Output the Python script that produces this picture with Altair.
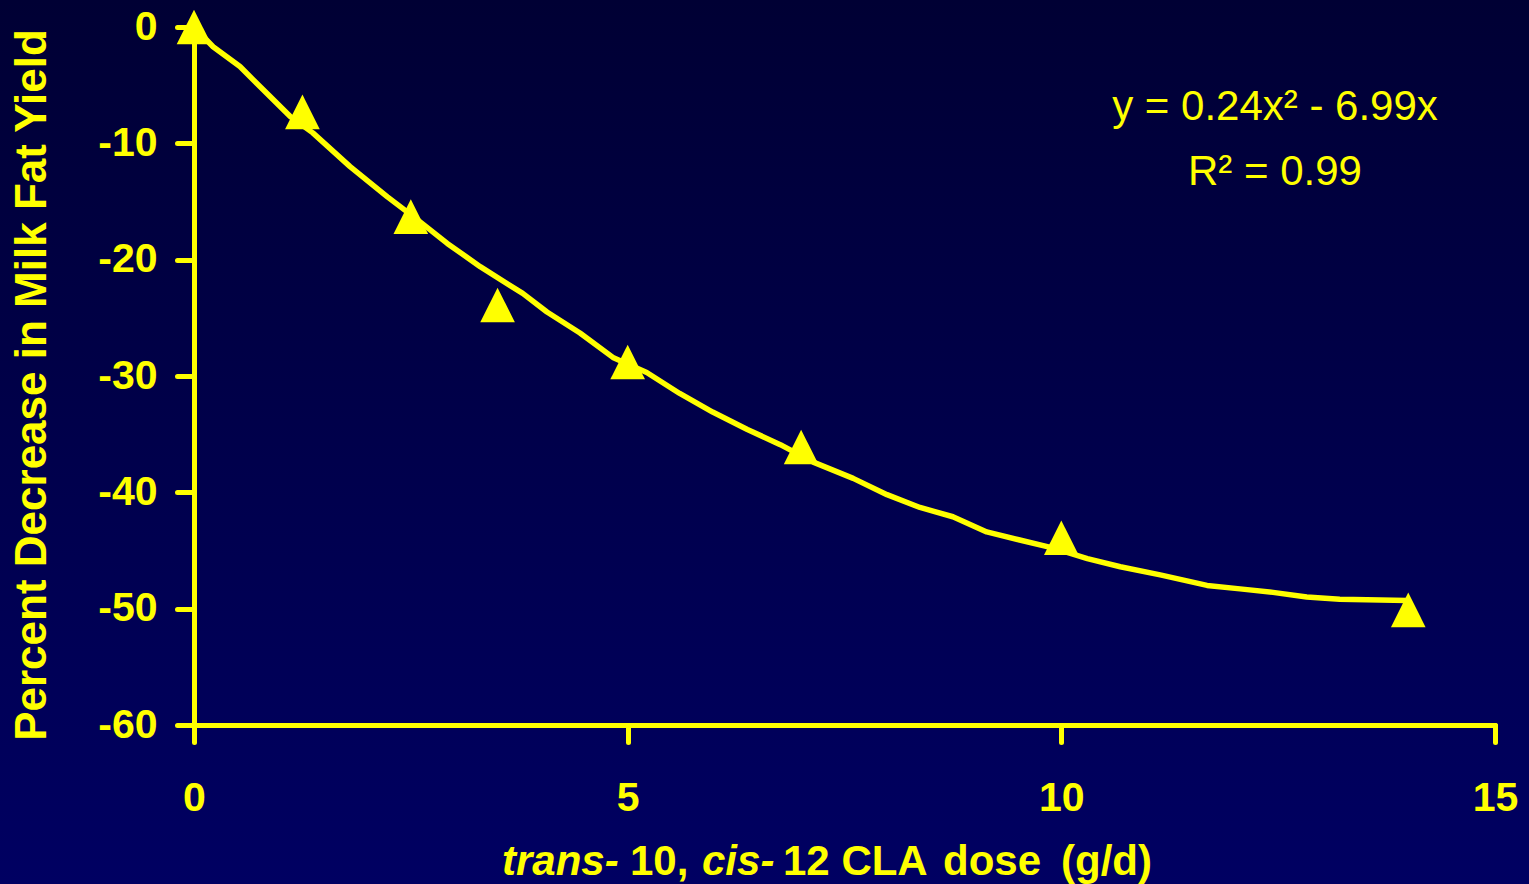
import altair as alt
import pandas as pd

YELLOW = "#FFFF00"
FONT = "Liberation Sans"

# Observed responses: CLA dose (g/d) vs. change in milk fat yield (%)
dose = [0, 1.25, 2.5, 3.5, 5, 7, 10, 14]
fat_change = [0, -7.3, -16.3, -23.9, -28.8, -36.1, -43.9, -50.1]

# Fitted quadratic trend line, sampled along its drawn path
curve_dose = [0, 0.22, 0.53, 0.88, 1.11, 1.37, 1.80, 2.23, 2.53, 2.92, 3.30, 3.79,
              4.07, 4.45, 4.83, 5.22, 5.60, 5.98, 6.38, 6.76, 7.14, 7.60, 7.99,
              8.37, 8.75, 9.14, 9.52, 9.91, 10.30, 10.68, 11.14, 11.68, 12.06,
              12.44, 12.83, 13.21, 13.99]
curve_change = [0, -1.7, -3.4, -6.0, -7.7, -9.1, -12.0, -14.6, -16.3, -18.6, -20.6,
                -22.9, -24.5, -26.3, -28.4, -29.7, -31.5, -33.1, -34.6, -35.9,
                -37.4, -38.8, -40.2, -41.3, -42.1, -43.4, -44.1, -44.8, -45.7,
                -46.4, -47.1, -48.0, -48.3, -48.6, -49.0, -49.2, -49.3]

x_ticks = [0, 5, 10, 15]
y_ticks = [-60, -50, -40, -30, -20, -10, 0]

equation_lines = ["y = 0.24x\u00b2 - 6.99x", "R\u00b2 = 0.99"]
y_title = "Percent Decrease in Milk Fat Yield"
x_title_parts = ["trans-", "10,", "cis-", "12 CLA", "dose", "(g/d)"]
x_title_italic = [True, False, True, False, False, False]

W, H = 1301, 698
PAD = {"left": 194, "top": 27, "right": 34, "bottom": 159}

points_df = pd.DataFrame({"dose": dose, "change": fat_change})
curve_df = pd.DataFrame({"dose": curve_dose, "change": curve_change})

x_scale = alt.Scale(domain=[0, 15], nice=False, zero=False)
y_scale = alt.Scale(domain=[-60, 0], nice=False, zero=False)

# plain integer labels with an ASCII hyphen for negatives
LABEL_EXPR = "datum.value < 0 ? '-' + abs(datum.value) : '' + datum.value"

axis_style = dict(
    domainColor=YELLOW, domainWidth=5, domainCap="round",
    tickColor=YELLOW, tickWidth=5, tickSize=17, tickCap="round",
    labelColor=YELLOW, labelFont=FONT, labelFontWeight="bold", labelFontSize=41,
    labelFlush=False, labelOverlap=False, labelExpr=LABEL_EXPR,
    grid=False, title=None, zindex=1,
)

# Dark navy backdrop fading slightly brighter toward the bottom
backdrop = alt.Chart(alt.Data(values=[{}])).mark_rect(
    fill=alt.Gradient(
        gradient="linear",
        stops=[alt.GradientStop(color="#000034", offset=0),
               alt.GradientStop(color="#000062", offset=1)],
        x1=0, x2=0, y1=0, y2=1,
    )
).encode(
    x=alt.value(-PAD["left"]), x2=alt.value(W + PAD["right"]),
    y=alt.value(-PAD["top"]), y2=alt.value(H + PAD["bottom"]),
)

curve = alt.Chart(curve_df).mark_line(
    color=YELLOW, strokeWidth=5.5, strokeJoin="round", strokeCap="round"
).encode(
    x=alt.X("dose:Q", scale=x_scale,
            axis=alt.Axis(values=x_ticks, labelPadding=36, **axis_style)),
    y=alt.Y("change:Q", scale=y_scale,
            axis=alt.Axis(values=y_ticks, labelPadding=20, **axis_style)),
)

markers = alt.Chart(points_df).mark_point(
    shape="M0,-1L-1,1L1,1Z", size=1200, filled=True, color=YELLOW, opacity=1
).encode(
    x=alt.X("dose:Q", scale=x_scale),
    y=alt.Y("change:Q", scale=y_scale),
)

eq_df = pd.DataFrame({"text": equation_lines, "py": [93, 158]})
equation = alt.Chart(eq_df).mark_text(
    font=FONT, fontSize=42, color=YELLOW, align="center", baseline="alphabetic"
).encode(
    text="text:N", x=alt.value(1081), y=alt.Y("py:Q", scale=None),
)

ytitle = alt.Chart(alt.Data(values=[{"t": y_title}])).mark_text(
    font=FONT, fontSize=44, fontWeight="bold", color=YELLOW,
    angle=270, align="center", baseline="middle"
).encode(text="t:N", x=alt.value(-161), y=alt.value(358))

xt_df = pd.DataFrame({
    "text": x_title_parts,
    "px": [308, 436, 508, 589, 749, 867],
    "style": ["italic" if it else "normal" for it in x_title_italic],
})
xtitle_italic = alt.Chart(xt_df).transform_filter("datum.style == 'italic'").mark_text(
    font=FONT, fontSize=42, fontWeight="bold", fontStyle="italic", color=YELLOW,
    align="left", baseline="alphabetic"
).encode(text="text:N", x=alt.X("px:Q", scale=None), y=alt.value(848))
xtitle_plain = alt.Chart(xt_df).transform_filter("datum.style == 'normal'").mark_text(
    font=FONT, fontSize=42, fontWeight="bold", color=YELLOW,
    align="left", baseline="alphabetic"
).encode(text="text:N", x=alt.X("px:Q", scale=None), y=alt.value(848))

chart = alt.layer(
    backdrop, curve, markers, equation, ytitle, xtitle_italic, xtitle_plain
).properties(
    width=W, height=H,
    autosize=alt.AutoSizeParams(type="none"),
    padding=PAD,
    background="#00004a",
).configure_view(stroke=None)

chart.save("out.html", embed_options={"renderer": "svg", "actions": False})
